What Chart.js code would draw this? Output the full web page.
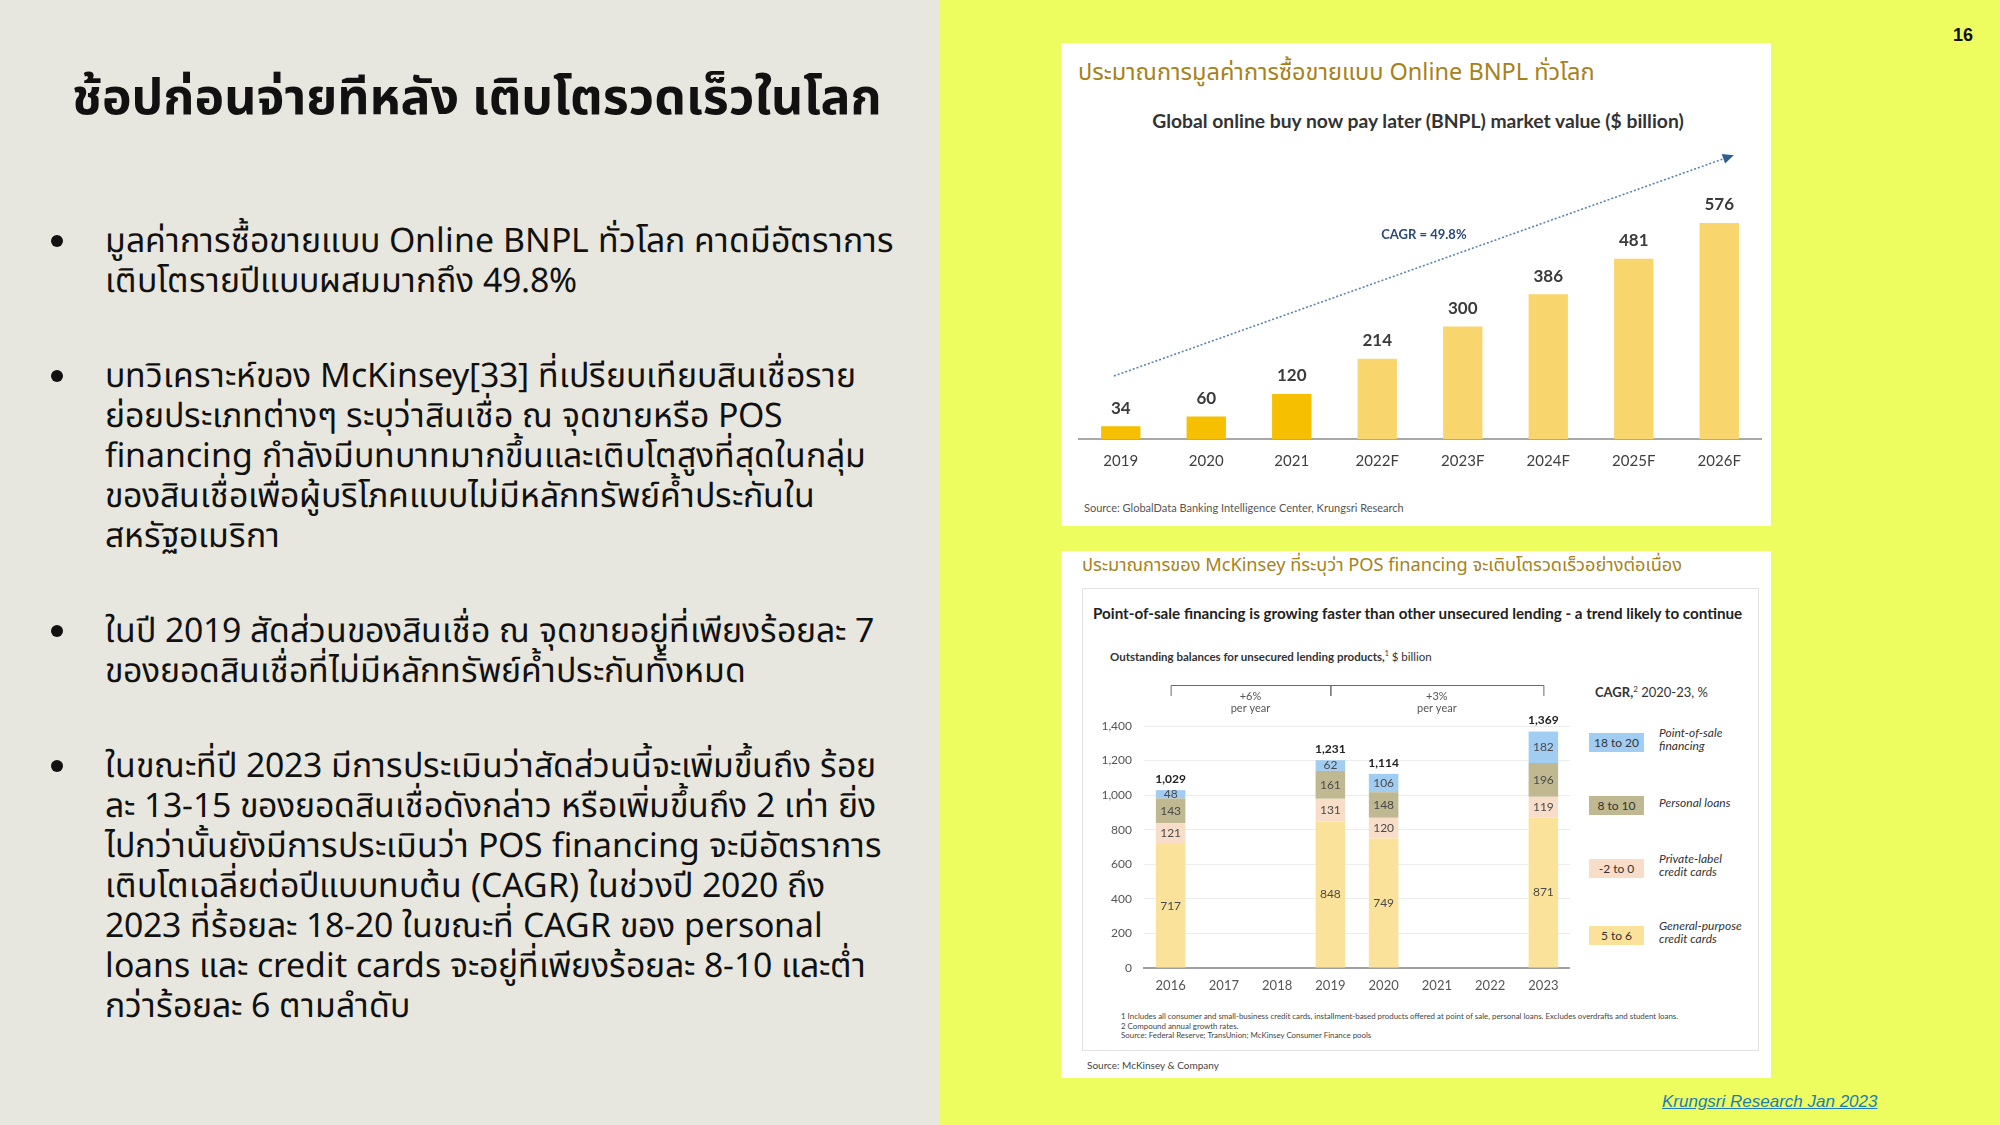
<!DOCTYPE html>
<html lang="th">
<head>
<meta charset="utf-8">
<script src="https://cdn.jsdelivr.net/npm/chart.js@4.4.0/dist/chart.umd.min.js"></script>
<style>
  @font-face {
    font-family: 'BodyText';
    src: local('Noto Sans'), local('NotoSans-Regular');
    ascent-override: 89%; descent-override: 24.5%; line-gap-override: 0%;
    unicode-range: U+0000-0DFF, U+0E80-FFFF;
  }
  @font-face {
    font-family: 'BodyText';
    src: local('Noto Sans Thai'), local('NotoSansThai-Regular'), local('Noto Sans Thai Looped'),
         local('Noto Sans Thai UI'), local('Loma'), local('Garuda'), local('Waree'), local('Umpush');
    ascent-override: 89%; descent-override: 24.5%; line-gap-override: 0%;
    unicode-range: U+0E00-0E7F;
  }
  html, body { margin: 0; padding: 0; }
  body {
    width: 2000px; height: 1125px; position: relative; overflow: hidden;
    background: #edfd5f;
    font-family: "Noto Sans", "Noto Sans Thai", sans-serif;
  }
  .abs { position: absolute; white-space: nowrap; }
  #leftPanel { position: absolute; left: 0; top: 0; width: 940px; height: 1125px; background: #e8e7df; }
  #title { left: 72px; top: 64px; font-size: 50px; line-height: 62px; font-weight: bold; color: #111; }
  .para { position: absolute; left: 105px; font-family: 'BodyText', "Noto Sans", "Noto Sans Thai", sans-serif;
          font-size: 33.8px; line-height: 40px; color: #111; white-space: nowrap; }
  .para::before {
    content: ""; position: absolute; left: -54px; top: 14px;
    width: 12px; height: 12px; border-radius: 50%; background: #111;
  }
  .card { position: absolute; background: #fff; }
  .thHead { color: #a7821b; font-family: "Noto Sans", "Noto Sans Thai", sans-serif; }
  .lato { font-family: Lato, "Liberation Sans", sans-serif; }
  canvas { position: absolute; }
  .legBox { position: absolute; width: 55px; height: 19px; line-height: 19px; text-align: center;
            font-family: Lato, sans-serif; font-size: 12px; color: #333; }
  .legTxt { position: absolute; font-family: Lato, sans-serif; font-style: italic; font-size: 12px;
            line-height: 13px; color: #333; white-space: nowrap; }
</style>
</head>
<body>
<div id="leftPanel"></div>
<div class="abs" id="title">ช้อปก่อนจ่ายทีหลัง เติบโตรวดเร็วในโลก</div>

<div class="para" style="top:221px">มูลค่าการซื้อขายแบบ Online BNPL ทั่วโลก คาดมีอัตราการ<br>เติบโตรายปีแบบผสมมากถึง 49.8%</div>
<div class="para" style="top:356px">บทวิเคราะห์ของ McKinsey[33] ที่เปรียบเทียบสินเชื่อราย<br>ย่อยประเภทต่างๆ ระบุว่าสินเชื่อ ณ จุดขายหรือ POS<br>financing กำลังมีบทบาทมากขึ้นและเติบโตสูงที่สุดในกลุ่ม<br>ของสินเชื่อเพื่อผู้บริโภคแบบไม่มีหลักทรัพย์ค้ำประกันใน<br>สหรัฐอเมริกา</div>
<div class="para" style="top:611px">ในปี 2019 สัดส่วนของสินเชื่อ ณ จุดขายอยู่ที่เพียงร้อยละ 7<br>ของยอดสินเชื่อที่ไม่มีหลักทรัพย์ค้ำประกันทั้งหมด</div>
<div class="para" style="top:746px">ในขณะที่ปี 2023 มีการประเมินว่าสัดส่วนนี้จะเพิ่มขึ้นถึง ร้อย<br>ละ 13-15 ของยอดสินเชื่อดังกล่าว หรือเพิ่มขึ้นถึง 2 เท่า ยิ่ง<br>ไปกว่านั้นยังมีการประเมินว่า POS financing จะมีอัตราการ<br>เติบโตเฉลี่ยต่อปีแบบทบต้น (CAGR) ในช่วงปี 2020 ถึง<br>2023 ที่ร้อยละ 18-20 ในขณะที่ CAGR ของ personal<br>loans และ credit cards จะอยู่ที่เพียงร้อยละ 8-10 และต่ำ<br>กว่าร้อยละ 6 ตามลำดับ</div>

<div class="abs" style="left:1953px; top:24px; font:bold 18px/22px 'Liberation Sans', Arial, sans-serif; color:#111;">16</div>
<div class="abs" style="left:1662px; top:1091px; font:italic 17px/22px 'Liberation Sans', Arial, sans-serif; color:#1b7db4; text-decoration:underline;">Krungsri Research Jan 2023</div>

<!-- top card: BNPL -->
<div class="card" style="left:1061px; top:43px; width:710px; height:483px;"></div>
<div class="abs thHead" style="left:1078px; top:56px; font-size:23.5px; line-height:30px;">ประมาณการมูลค่าการซื้อขายแบบ Online BNPL ทั่วโลก</div>
<div class="abs lato" style="left:1061px; width:714px; text-align:center; top:108px; font-size:19.3px; line-height:26px; font-weight:bold; color:#333;">Global online buy now pay later (BNPL) market value ($ billion)</div>
<canvas id="bnplChart" width="684" height="332" style="left:1078px; top:139px;"></canvas>
<div class="abs lato" style="left:1084px; top:500px; font-size:11px; line-height:16px; color:#555;">Source: GlobalData Banking Intelligence Center, Krungsri Research</div>

<!-- bottom card: McKinsey -->
<div class="card" style="left:1061px; top:551px; width:710px; height:527px;"></div>
<div class="abs thHead" style="left:1082px; top:551px; font-size:18.2px; line-height:26px;">ประมาณการของ McKinsey ที่ระบุว่า POS financing จะเติบโตรวดเร็วอย่างต่อเนื่อง</div>
<div class="abs" style="left:1082px; top:588px; width:675px; height:461px; border:1px solid #e2e2e2;"></div>
<div class="abs lato" style="left:1093px; top:603px; font-size:15.2px; line-height:20px; font-weight:bold; color:#222;">Point-of-sale financing is growing faster than other unsecured lending - a trend likely to continue</div>
<div class="abs lato" style="left:1110px; top:645px; font-size:11.5px; line-height:16px; color:#333;"><b>Outstanding balances for unsecured lending products,</b><sup style="font-size:7px">1</sup> $ billion</div>
<div class="abs lato" style="left:1595px; top:681px; font-size:13px; line-height:16px; color:#333;"><b>CAGR,</b><sup style="font-size:8px">2</sup> 2020-23, %</div>
<canvas id="posChart" width="480" height="325" style="left:1090px; top:675px;"></canvas>
<div id="posLegend"></div>
<div class="abs lato" style="left:1121px; top:1012px; font-size:7.9px; line-height:9.5px; color:#444;">1 Includes all consumer and small-business credit cards, installment-based products offered at point of sale, personal loans. Excludes overdrafts and student loans.<br>2 Compound annual growth rates.<br>Source: Federal Reserve; TransUnion; McKinsey Consumer Finance pools</div>
<div class="abs lato" style="left:1087px; top:1058px; font-size:10px; line-height:14px; color:#444;">Source: McKinsey &amp; Company</div>

<script>
// --- BNPL market value ($ billion)
const bnplYears = ['2019', '2020', '2021', '2022F', '2023F', '2024F', '2025F', '2026F'];
const bnplValues = [34, 60, 120, 214, 300, 386, 481, 576];
const bnplIsForecast = [false, false, false, true, true, true, true, true];
const bnplCagr = 'CAGR = 49.8%';

// --- outstanding unsecured lending balances ($ billion)
const posYears = ['2016', '2017', '2018', '2019', '2020', '2021', '2022', '2023'];
const generalPurpose = [717, null, null, 848, 749, null, null, 871];
const privateLabel = [121, null, null, 131, 120, null, null, 119];
const personalLoans = [143, null, null, 161, 148, null, null, 196];
const posFinancing = [48, null, null, 62, 106, null, null, 182];
const posTotals = [1029, null, null, 1231, 1114, null, null, 1369];
const seriesNames = ['General-purpose credit cards', 'Private-label credit cards', 'Personal loans', 'Point-of-sale financing'];
const legendLines = [['General-purpose', 'credit cards'], ['Private-label', 'credit cards'], ['Personal loans'], ['Point-of-sale', 'financing']];
const seriesCagr = ['5 to 6', '-2 to 0', '8 to 10', '18 to 20'];
const growthPeriods = [
  { from: '2016', to: '2019', label: '+6%' },
  { from: '2019', to: '2023', label: '+3%' }
];

Chart.defaults.font.family = 'Lato, "Liberation Sans", sans-serif';
Chart.defaults.animation = false;

// value labels on top of BNPL bars
const bnplLabels = {
  id: 'bnplLabels',
  afterDatasetsDraw(chart) {
    const ctx = chart.ctx;
    const meta = chart.getDatasetMeta(0);
    ctx.save();
    ctx.font = 'bold 17px Lato';
    ctx.fillStyle = '#3b3b3b';
    ctx.textAlign = 'center';
    ctx.textBaseline = 'middle';
    meta.data.forEach((bar, i) => {
      ctx.fillText(String(bnplValues[i]), bar.x, bar.y - 18);
    });
    ctx.restore();
  }
};

// dotted trend arrow with the CAGR note
const cagrArrow = {
  id: 'cagrArrow',
  afterDatasetsDraw(chart) {
    const xs = chart.scales.x, ys = chart.scales.y, ctx = chart.ctx;
    const x0 = xs.getPixelForValue(-0.08), y0 = ys.getPixelForValue(168);
    const x1 = xs.getPixelForValue(7.17), y1 = ys.getPixelForValue(757);
    const ang = Math.atan2(y1 - y0, x1 - x0);
    const head = 11;
    ctx.save();
    ctx.strokeStyle = '#5b84ad';
    ctx.lineWidth = 1.6;
    ctx.setLineDash([2, 2]);
    ctx.beginPath();
    ctx.moveTo(x0, y0);
    ctx.lineTo(x1 - head * Math.cos(ang), y1 - head * Math.sin(ang));
    ctx.stroke();
    ctx.setLineDash([]);
    ctx.fillStyle = '#2f5f8f';
    ctx.beginPath();
    ctx.moveTo(x1, y1);
    ctx.lineTo(x1 - head * Math.cos(ang) + 5 * Math.sin(ang), y1 - head * Math.sin(ang) - 5 * Math.cos(ang));
    ctx.lineTo(x1 - head * Math.cos(ang) - 5 * Math.sin(ang), y1 - head * Math.sin(ang) + 5 * Math.cos(ang));
    ctx.closePath();
    ctx.fill();
    ctx.font = 'bold 13px Lato';
    ctx.fillStyle = '#2c4a76';
    ctx.textAlign = 'center';
    ctx.textBaseline = 'middle';
    ctx.fillText(bnplCagr, (x0 + x1) / 2, (y0 + y1) / 2 - 31);
    ctx.restore();
  }
};

new Chart(document.getElementById('bnplChart'), {
  type: 'bar',
  data: {
    labels: bnplYears,
    datasets: [{
      label: 'BNPL market value',
      data: bnplValues,
      backgroundColor: bnplIsForecast.map(f => f ? '#f9d56e' : '#f6c000'),
      barPercentage: 0.46,
      categoryPercentage: 1
    }]
  },
  options: {
    responsive: false,
    layout: { padding: 0 },
    plugins: { legend: { display: false }, tooltip: { enabled: false } },
    scales: {
      x: {
        grid: { display: false, drawTicks: false },
        border: { display: true, color: '#a8a8a8', width: 2 },
        ticks: { color: '#404040', font: { size: 15 }, padding: 13 },
        afterFit(scale) { scale.height = 32; }
      },
      y: { display: false, min: 0, max: 800 }
    }
  },
  plugins: [bnplLabels, cagrArrow]
});

// --- stacked chart
const posColors = ['#fbe29b', '#f8dec8', '#bfb891', '#a2cdf3'];
const posSeries = [generalPurpose, privateLabel, personalLoans, posFinancing];

const segmentLabels = {
  id: 'segmentLabels',
  afterDatasetsDraw(chart) {
    const ctx = chart.ctx;
    ctx.save();
    ctx.textAlign = 'center';
    ctx.textBaseline = 'middle';
    ctx.font = '12px Lato';
    ctx.fillStyle = '#4a4a4a';
    posSeries.forEach((vals, d) => {
      chart.getDatasetMeta(d).data.forEach((bar, i) => {
        if (vals[i] == null) return;
        ctx.fillText(String(vals[i]), bar.x, (bar.y + bar.base) / 2);
      });
    });
    ctx.font = 'bold 12px Lato';
    ctx.fillStyle = '#222';
    const topMeta = chart.getDatasetMeta(posSeries.length - 1);
    topMeta.data.forEach((bar, i) => {
      if (posTotals[i] == null) return;
      ctx.fillText(posTotals[i].toLocaleString('en-US'), bar.x, bar.y - 11);
    });
    ctx.restore();
  }
};

const periodBrackets = {
  id: 'periodBrackets',
  afterDraw(chart) {
    const ctx = chart.ctx, xs = chart.scales.x;
    const top = 10, bottom = 21;
    ctx.save();
    ctx.strokeStyle = '#6a6a6a';
    ctx.lineWidth = 1;
    ctx.font = '11px Lato';
    ctx.fillStyle = '#555';
    ctx.textAlign = 'center';
    ctx.textBaseline = 'middle';
    growthPeriods.forEach(p => {
      const a = xs.getPixelForValue(posYears.indexOf(p.from));
      const b = xs.getPixelForValue(posYears.indexOf(p.to));
      ctx.beginPath();
      ctx.moveTo(a + 0.5, bottom);
      ctx.lineTo(a + 0.5, top + 0.5);
      ctx.lineTo(b + 0.5, top + 0.5);
      ctx.lineTo(b + 0.5, bottom);
      ctx.stroke();
      ctx.fillText(p.label, (a + b) / 2, 21);
      ctx.fillText('per year', (a + b) / 2, 33);
    });
    ctx.restore();
  }
};

new Chart(document.getElementById('posChart'), {
  type: 'bar',
  data: {
    labels: posYears,
    datasets: posSeries.map((vals, i) => ({
      label: seriesNames[i],
      data: vals,
      backgroundColor: posColors[i],
      barPercentage: 0.555,
      categoryPercentage: 1
    }))
  },
  options: {
    responsive: false,
    layout: { padding: { top: 51, right: 0, bottom: 0, left: 0 } },
    plugins: { legend: { display: false }, tooltip: { enabled: false } },
    scales: {
      x: {
        stacked: true,
        grid: { display: false, drawTicks: false },
        border: { display: true, color: '#a0a0a0', width: 2 },
        ticks: { color: '#555', font: { size: 13 }, padding: 10 },
        afterFit(scale) { scale.height = 32; }
      },
      y: {
        stacked: true,
        min: 0, max: 1400,
        grid: { color: '#ececec', drawTicks: false },
        border: { display: false },
        ticks: { stepSize: 200, color: '#555', font: { size: 12 }, padding: 12 },
        afterFit(scale) { scale.width = 54; }
      }
    }
  },
  plugins: [segmentLabels, periodBrackets]
});

// custom legend with CAGR ranges, top to bottom
const legendCentres = [935, 868, 805, 742];
const legend = document.getElementById('posLegend');
seriesNames.forEach((name, i) => {
  const box = document.createElement('div');
  box.className = 'legBox';
  box.style.left = '1589px';
  box.style.top = (legendCentres[i] - 9.5) + 'px';
  box.style.background = posColors[i];
  box.textContent = seriesCagr[i];
  legend.appendChild(box);
  const txt = document.createElement('div');
  txt.className = 'legTxt';
  txt.style.left = '1659px';
  txt.style.top = (legendCentres[i] - legendLines[i].length * 6.5 - 3) + 'px';
  txt.innerHTML = legendLines[i].join('<br>');
  txt.title = name;
  legend.appendChild(txt);
});
</script>
</body>
</html>
